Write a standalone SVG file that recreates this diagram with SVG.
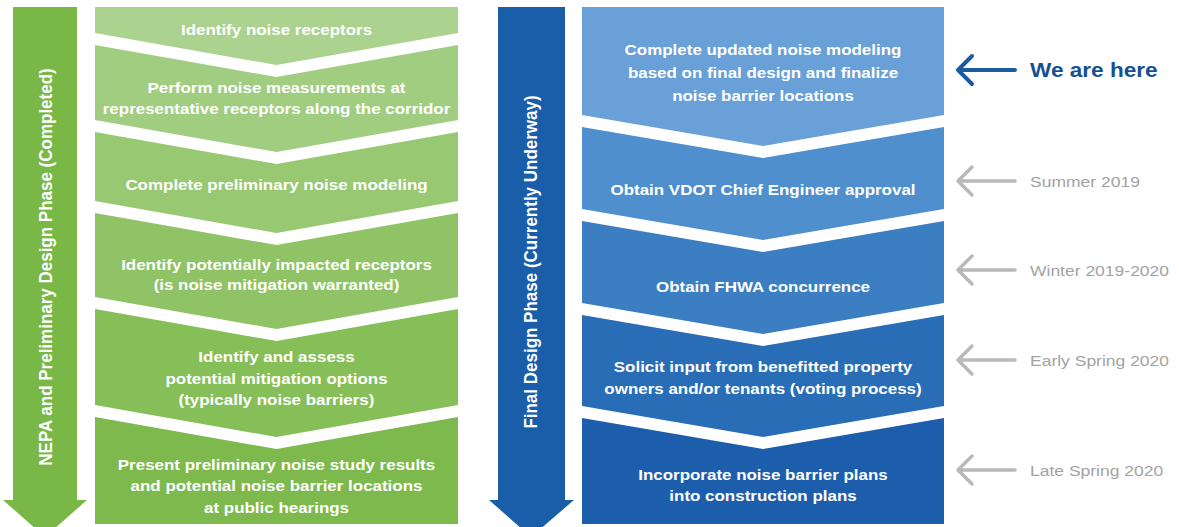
<svg xmlns="http://www.w3.org/2000/svg" width="1179" height="527" viewBox="0 0 1179 527">
<style>
.t{font-family:"Liberation Sans",Arial,sans-serif;font-weight:bold;font-size:15px;fill:#ffffff;text-anchor:middle}
.v{font-family:"Liberation Sans",Arial,sans-serif;font-weight:bold;font-size:17px;fill:#ffffff;text-anchor:middle}
.g{font-family:"Liberation Sans",Arial,sans-serif;font-size:15.5px;fill:#a3a3a3}
.h{font-family:"Liberation Sans",Arial,sans-serif;font-weight:bold;font-size:20px;fill:#174f93}
.ga{fill:none;stroke:#b9b9b9;stroke-width:3.5;stroke-linecap:round;stroke-linejoin:round}
.ba{fill:none;stroke:#1b5a9e;stroke-width:4;stroke-linecap:round;stroke-linejoin:round}
</style>
<rect width="1179" height="527" fill="#ffffff"/>

<g id="phase-nepa">
<path d="M13,7 H77 V500 H87 L45,537 L3,500 H13 Z" fill="#79b746"/>
<text class="v" transform="translate(52,267) scale(1.13,1) rotate(-90)">NEPA and Preliminary Design Phase (Completed)</text>
</g>

<g id="phase-final">
<path d="M498,7 H565 V500 H574 L531,537 L489,500 H498 Z" fill="#1a5ea9"/>
<text class="v" transform="translate(537,262) scale(1.13,1) rotate(-90)">Final Design Phase (Currently Underway)</text>
</g>

<g id="step-l1">
<path d="M95,7 H458 V33 L276.5,65 L95,33 Z" fill="#abd28f"/>
<g transform="translate(276.5,0) scale(1.13,1)"><text class="t" x="0" y="35.5">Identify noise receptors</text></g>
</g>
<g id="step-l2">
<path d="M95,45 L276.5,77 L458,45 V120 L276.5,152 L95,120 Z" fill="#a1cd80"/>
<g transform="translate(276.5,0) scale(1.13,1)"><text class="t" x="0" y="93.5">Perform noise measurements at</text><text class="t" x="0" y="114.5">representative receptors along the corridor</text></g>
</g>
<g id="step-l3">
<path d="M95,132 L276.5,164 L458,132 V201 L276.5,233 L95,201 Z" fill="#98c872"/>
<g transform="translate(276.5,0) scale(1.13,1)"><text class="t" x="0" y="190.5">Complete preliminary noise modeling</text></g>
</g>
<g id="step-l4">
<path d="M95,213 L276.5,245 L458,213 V297 L276.5,329 L95,297 Z" fill="#8fc365"/>
<g transform="translate(276.5,0) scale(1.13,1)"><text class="t" x="0" y="270.5">Identify potentially impacted receptors</text><text class="t" x="0" y="290.5">(is noise mitigation warranted)</text></g>
</g>
<g id="step-l5">
<path d="M95,309 L276.5,341 L458,309 V405 L276.5,437 L95,405 Z" fill="#86be58"/>
<g transform="translate(276.5,0) scale(1.13,1)"><text class="t" x="0" y="362.5">Identify and assess</text><text class="t" x="0" y="384.5">potential mitigation options</text><text class="t" x="0" y="405.5">(typically noise barriers)</text></g>
</g>
<g id="step-l6">
<path d="M95,417 L276.5,449 L458,417 V524 H95 Z" fill="#7db94c"/>
<g transform="translate(276.5,0) scale(1.13,1)"><text class="t" x="0" y="470.5">Present preliminary noise study results</text><text class="t" x="0" y="491.5">and potential noise barrier locations</text><text class="t" x="0" y="512.5">at public hearings</text></g>
</g>

<g id="step-r1">
<path d="M582,7 H944 V115 L763,146 L582,115 Z" fill="#68a0d7"/>
<g transform="translate(763,0) scale(1.13,1)"><text class="t" x="0" y="55.5">Complete updated noise modeling</text><text class="t" x="0" y="78.5">based on final design and finalize</text><text class="t" x="0" y="101.5">noise barrier locations</text></g>
</g>
<g id="step-r2">
<path d="M582,127 L763,158 L944,127 V209 L763,240 L582,209 Z" fill="#4f8fcd"/>
<g transform="translate(763,0) scale(1.13,1)"><text class="t" x="0" y="195.5">Obtain VDOT Chief Engineer approval</text></g>
</g>
<g id="step-r3">
<path d="M582,221 L763,252 L944,221 V303 L763,334 L582,303 Z" fill="#3b7ec2"/>
<g transform="translate(763,0) scale(1.13,1)"><text class="t" x="0" y="292.5">Obtain FHWA concurrence</text></g>
</g>
<g id="step-r4">
<path d="M582,315 L763,346 L944,315 V406 L763,437 L582,406 Z" fill="#2a6db7"/>
<g transform="translate(763,0) scale(1.13,1)"><text class="t" x="0" y="372.5">Solicit input from benefitted property</text><text class="t" x="0" y="394.5">owners and/or tenants (voting process)</text></g>
</g>
<g id="step-r5">
<path d="M582,418 L763,449 L944,418 V524 H582 Z" fill="#1c5eab"/>
<g transform="translate(763,0) scale(1.13,1)"><text class="t" x="0" y="480.5">Incorporate noise barrier plans</text><text class="t" x="0" y="501.5">into construction plans</text></g>
</g>

<g id="connectors">
<path class="ba" d="M1015,70 H958 M972,56 L958,70 L972,84"/>
<path class="ga" d="M1015,181 H958 M972,167 L958,181 L972,195"/>
<path class="ga" d="M1015,270 H958 M972,256 L958,270 L972,284"/>
<path class="ga" d="M1015,360 H958 M972,346 L958,360 L972,374"/>
<path class="ga" d="M1015,470 H958 M972,456 L958,470 L972,484"/>
</g>

<g id="labels">
<g transform="translate(1030,77) scale(1.13,1)"><text class="h" x="0" y="0">We are here</text></g>
<g transform="translate(1030,187) scale(1.13,1)"><text class="g" x="0" y="0">Summer 2019</text></g>
<g transform="translate(1030,276) scale(1.13,1)"><text class="g" x="0" y="0">Winter 2019-2020</text></g>
<g transform="translate(1030,366) scale(1.13,1)"><text class="g" x="0" y="0">Early Spring 2020</text></g>
<g transform="translate(1030,476) scale(1.13,1)"><text class="g" x="0" y="0">Late Spring 2020</text></g>
</g>
</svg>
